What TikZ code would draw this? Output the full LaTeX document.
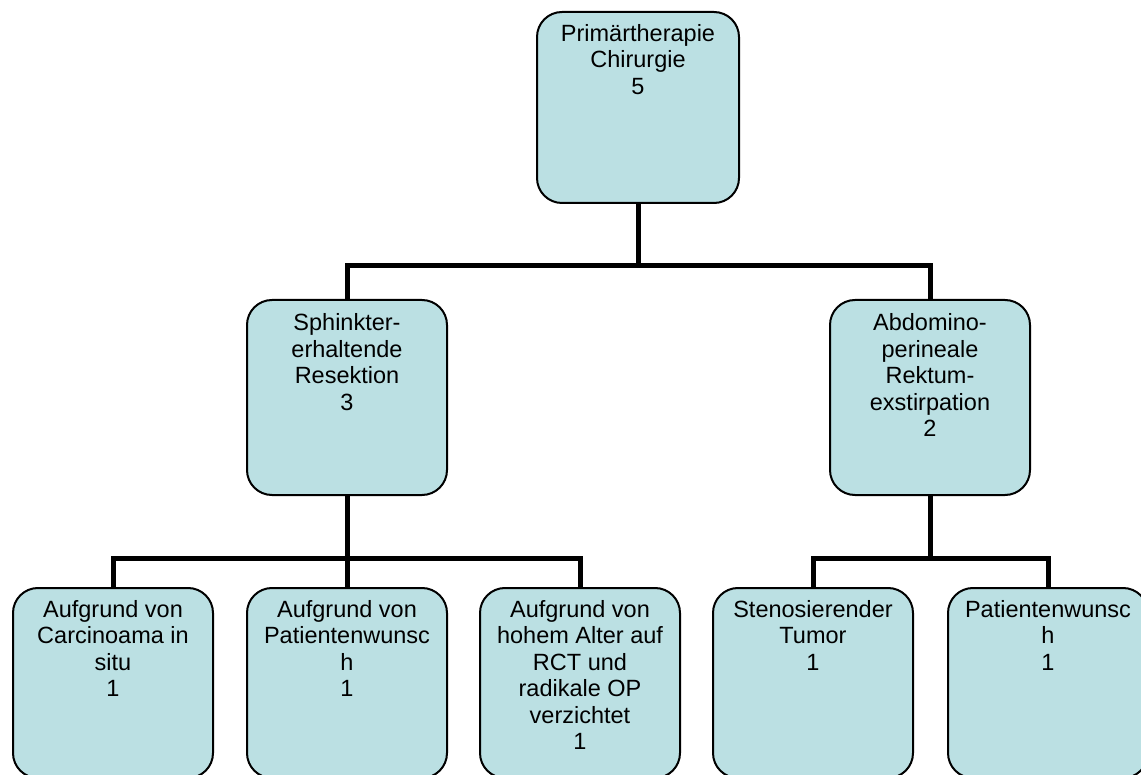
\documentclass[tikz,border=0pt]{standalone}
\usepackage{fontspec}
\setmainfont{Liberation Sans}
\definecolor{boxfill}{RGB}{187,224,227}
\begin{document}
\begin{tikzpicture}[x=1pt,y=-1pt,
  box/.style={draw=black, line width=2pt, fill=boxfill, rounded corners=25pt,
    minimum width=200pt, inner sep=0pt, outer sep=0pt},
  txt/.style={anchor=north, inner sep=0pt, align=center,
    font=\fontsize{23.5}{26.5}\selectfont},
  conn/.style={draw=black, line width=5pt}]
\useasboundingbox (0,0) rectangle (1141,775);

% boxes
\node[box, minimum width=202pt, minimum height=191pt] (top) at (638,107.5) {};
\node[box, minimum height=195pt] (sph) at (347,397.5) {};
\node[box, minimum height=195pt] (abd) at (930,397.5) {};
\node[box, minimum height=190pt] (b1) at (113,683) {};
\node[box, minimum height=190pt] (b2) at (347,683) {};
\node[box, minimum height=190pt] (b3) at (580,683) {};
\node[box, minimum height=190pt] (b4) at (813,683) {};
\node[box, minimum height=190pt] (b5) at (1048,683) {};

% texts
\node[txt] (ttop) at ([yshift=-10.5pt]top.north) {\strut Primärtherapie\\Chirurgie\\5};
\node[txt] (tsph) at ([yshift=-12pt]sph.north) {\strut Sphinkter-\\erhaltende\\Resektion\\3};
\node[txt] (tabd) at ([yshift=-12pt]abd.north) {\strut Abdomino-\\perineale\\Rektum-\\exstirpation\\2};
\node[txt] (tb1) at ([yshift=-10.5pt]b1.north) {\strut Aufgrund von\\Carcinoama in\\situ\\1};
\node[txt] (tb2) at ([yshift=-10.5pt]b2.north) {\strut Aufgrund von\\Patientenwunsc\\h\\1};
\node[txt] (tb3) at ([yshift=-10.5pt]b3.north) {\strut Aufgrund von\\hohem Alter auf\\RCT und\\radikale OP\\verzichtet\\1};
\node[txt] (tb4) at ([yshift=-10.5pt]b4.north) {\strut Stenosierender\\Tumor\\1};
\node[txt] (tb5) at ([yshift=-10.5pt]b5.north) {\strut Patientenwunsc\\h\\1};

% junctions
\coordinate (j1) at (638,266);
\coordinate (j2) at (347,558);
\coordinate (j3) at (930,558);

% connectors
\draw[conn] (top.south) -- (j1);
\draw[conn] (sph.north) |- (j1) -| (abd.north);
\draw[conn] (sph.south) -- (b2.north);
\draw[conn] (b1.north) |- (j2) -| (b3.north);
\draw[conn] (abd.south) -- (j3);
\draw[conn] (b4.north) |- (j3) -| (b5.north);
\end{tikzpicture}
\end{document}
